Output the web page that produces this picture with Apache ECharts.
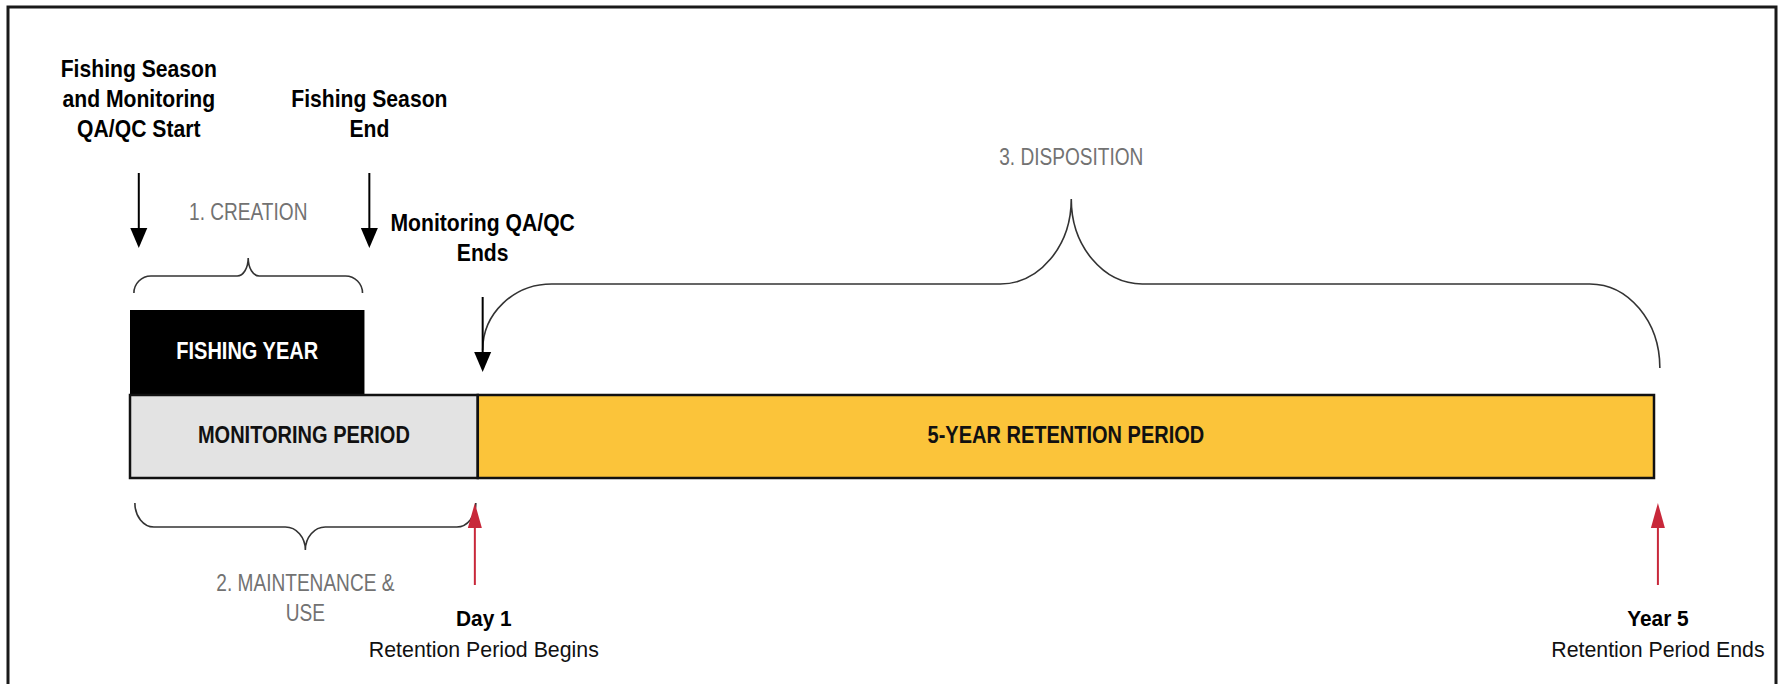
<!DOCTYPE html>
<html><head><meta charset="utf-8">
<script src="https://cdn.jsdelivr.net/npm/echarts@6/dist/echarts.min.js"></script>
<style>html,body{margin:0;padding:0;background:#fff}#chart{width:1781px;height:684px}</style>
</head><body><div id="chart"></div>
<script>
// ---------- data (x = months from the start of the fishing year) ----------
const periodNames = ['FISHING YEAR', 'MONITORING PERIOD', '5-YEAR RETENTION PERIOD'];
const periodStart = [0, 0, 17.8];
const periodEnd = [12, 17.8, 78];

const eventLabels = ['Fishing Season\nand Monitoring\nQA/QC Start', 'Fishing Season\nEnd', 'Monitoring QA/QC\nEnds'];
const eventX = [0.45, 12.25, 18.05];

const milestoneTitles = ['Day 1', 'Year 5'];
const milestoneNotes = ['Retention Period Begins', 'Retention Period Ends'];
const milestoneX = [17.65, 78.2];

const phaseNames = ['1. CREATION', '2. MAINTENANCE &\nUSE', '3. DISPOSITION'];
const phaseStart = [0.2, 0.25, 18.05];
const phaseEnd = [11.9, 17.7, 78.3];

// ---------- styles / layout ----------
const FONT = "'Liberation Sans', Arial, sans-serif";
const periodStyle = [
  {fill: '#000000', textFill: '#ffffff', top: 310, bottom: 395, stroke: null},
  {fill: '#E3E3E3', textFill: '#111111', top: 395, bottom: 478, stroke: '#111111'},
  {fill: '#FBC43A', textFill: '#111111', top: 395, bottom: 478, stroke: '#111111'}
];
const eventTipY = [248, 248, 372];
const milestoneLabelDx = [9, 0];
const braceLayout = [
  {yE0: 293, yE1: 293, yH: 276, yT: 258, r0: 17, r1: 17, rt: 11, labelY: 212, labelVA: 'middle'},
  {yE0: 503, yE1: 503, yH: 527, yT: 550, r0: 19, r1: 19, rt: 20, labelY: 568, labelVA: 'top'},
  {yE0: 350, yE1: 368, yH: 284, yT: 199, r0: 69, r1: 70, rt: 71, labelY: 157, labelVA: 'middle'}
];

function bracePath(x0, x1, L) {
  const k = 0.552, xm = (x0 + x1) / 2, yH = L.yH, yT = L.yT;
  return [
    `M${x0},${L.yE0}`,
    `C${x0},${L.yE0 + (yH - L.yE0) * k} ${x0 + L.r0 * (1 - k)},${yH} ${x0 + L.r0},${yH}`,
    `L${xm - L.rt},${yH}`,
    `C${xm - L.rt * (1 - k)},${yH} ${xm},${yT + (yH - yT) * k} ${xm},${yT}`,
    `C${xm},${yT + (yH - yT) * k} ${xm + L.rt * (1 - k)},${yH} ${xm + L.rt},${yH}`,
    `L${x1 - L.r1},${yH}`,
    `C${x1 - L.r1 * (1 - k)},${yH} ${x1},${L.yE1 + (yH - L.yE1) * k} ${x1},${L.yE1}`
  ].join(' ');
}

function arrow(x, yFrom, yTip, color, hw, hh, lw) {
  const dir = yTip > yFrom ? 1 : -1;
  const base = yTip - dir * hh;
  return [
    {type: 'line', shape: {x1: x, y1: yFrom, x2: x, y2: base + dir}, style: {stroke: color, lineWidth: lw}},
    {type: 'polygon', shape: {points: [[x - hw, base], [x + hw, base], [x, yTip]]}, style: {fill: color}}
  ];
}

// text element positioned at (x, y) and horizontally condensed by sx
function label(text, x, y, sx, va, fill, font, lh) {
  return {type: 'text', x: x, y: y, scaleX: sx, scaleY: 1,
    style: {text: text, x: 0, y: 0, align: 'center', verticalAlign: va, fill: fill,
      font: font, lineHeight: lh || 30}};
}

const chart = echarts.init(document.getElementById('chart'), null, {renderer: 'svg'});
const xc = (api, v) => api.coord([v, 0])[0];

const option = {
  animation: false,
  backgroundColor: '#ffffff',
  grid: {left: 130, right: 127, top: 0, bottom: 0},
  xAxis: {type: 'value', min: 0, max: 78, show: false},
  yAxis: {type: 'value', min: 0, max: 1, show: false},
  graphic: [{
    type: 'rect', silent: true, z: 0,
    shape: {x: 8, y: 7, width: 1768, height: 720},
    style: {fill: 'none', stroke: '#1a1a1a', lineWidth: 3}
  }],
  series: [
    {
      type: 'custom', name: 'periods', clip: false, z: 2,
      encode: {x: [0, 1], y: 2},
      data: periodNames.map((n, i) => [periodStart[i], periodEnd[i], 0]),
      renderItem(params, api) {
        const i = params.dataIndex, s = periodStyle[i];
        const x0 = xc(api, api.value(0)), x1 = xc(api, api.value(1));
        return {type: 'group', children: [
          {type: 'rect', shape: {x: x0, y: s.top, width: x1 - x0, height: s.bottom - s.top},
           style: {fill: s.fill, stroke: s.stroke || s.fill, lineWidth: s.stroke ? 2.5 : 0}},
          label(periodNames[i], (x0 + x1) / 2, (s.top + s.bottom) / 2 - 2, 0.87, 'middle',
            s.textFill, `bold 23px ${FONT}`)
        ]};
      }
    },
    {
      type: 'custom', name: 'events', clip: false, z: 3,
      encode: {x: 0, y: 1},
      data: eventX.map(v => [v, 0]),
      renderItem(params, api) {
        const i = params.dataIndex, x = xc(api, api.value(0)), tip = eventTipY[i];
        return {type: 'group', children: [
          ...arrow(x, tip - 75, tip, '#000000', 8.5, 20, 2),
          label(eventLabels[i], x, tip - 104, 0.92, 'bottom', '#000000', `bold 23px ${FONT}`)
        ]};
      }
    },
    {
      type: 'custom', name: 'milestones', clip: false, z: 3,
      encode: {x: 0, y: 1},
      data: milestoneX.map(v => [v, 0]),
      renderItem(params, api) {
        const i = params.dataIndex, x = xc(api, api.value(0)), tx = x + milestoneLabelDx[i];
        return {type: 'group', children: [
          ...arrow(x, 585, 503, '#C8283A', 7, 25, 2),
          label(milestoneTitles[i], tx, 619, 0.95, 'middle', '#000000', `bold 22px ${FONT}`),
          label(milestoneNotes[i], tx, 649, 0.97, 'middle', '#111111', `22px ${FONT}`)
        ]};
      }
    },
    {
      type: 'custom', name: 'phases', clip: false, z: 1,
      encode: {x: [0, 1], y: 2},
      data: phaseNames.map((n, i) => [phaseStart[i], phaseEnd[i], 0]),
      renderItem(params, api) {
        const i = params.dataIndex, L = braceLayout[i];
        const x0 = xc(api, api.value(0)), x1 = xc(api, api.value(1));
        return {type: 'group', children: [
          {type: 'path', shape: {pathData: bracePath(x0, x1, L)},
           style: {fill: 'none', stroke: '#333333', lineWidth: 1.6}},
          label(phaseNames[i], (x0 + x1) / 2, L.labelY, 0.83, L.labelVA, '#727272', `23px ${FONT}`)
        ]};
      }
    }
  ]
};
chart.setOption(option);
</script>
</body></html>
